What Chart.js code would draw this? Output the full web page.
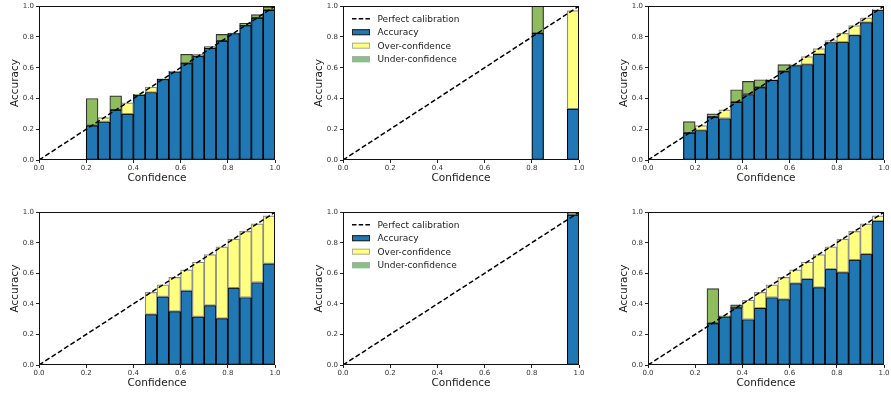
<!DOCTYPE html>
<html>
<head>
<meta charset="utf-8">
<script src="https://cdn.jsdelivr.net/npm/chart.js@4/dist/chart.umd.min.js"></script>
<style>
  html, body { margin: 0; padding: 0; background: #fff; }
  body { width: 891px; height: 396px; position: relative; overflow: hidden; }
  canvas { position: absolute; }
</style>
</head>
<body>
<canvas id="pA" width="283" height="190" style="left:0px;top:0px"></canvas>
<canvas id="pB" width="283" height="190" style="left:304px;top:0px"></canvas>
<canvas id="pC" width="283" height="190" style="left:609px;top:0px"></canvas>
<canvas id="pD" width="283" height="189" style="left:0px;top:206px"></canvas>
<canvas id="pE" width="283" height="189" style="left:304px;top:206px"></canvas>
<canvas id="pF" width="283" height="189" style="left:609px;top:206px"></canvas>
<script>
// 20 confidence bins of width 0.05 (lower edges)
var binLabels = ['0.00', '0.05', '0.10', '0.15', '0.20', '0.25', '0.30', '0.35', '0.40', '0.45',
                 '0.50', '0.55', '0.60', '0.65', '0.70', '0.75', '0.80', '0.85', '0.90', '0.95'];
var axisTicks = [0, 0.2, 0.4, 0.6, 0.8, 1.0];
var diagonal = [0, 1];
var legendLabels = ['Perfect calibration', 'Accuracy', 'Over-confidence', 'Under-confidence'];

// per-panel accuracy and mean confidence per bin (null = empty bin)
var accA  = [null, null, null, null, 0.400, 0.250, 0.417, 0.300, 0.427, 0.440, 0.528, 0.578, 0.687, 0.685, 0.738, 0.817, 0.825, 0.889, 0.945, 0.996];
var confA = [null, null, null, null, 0.224, 0.276, 0.326, 0.372, 0.424, 0.474, 0.525, 0.575, 0.628, 0.674, 0.727, 0.774, 0.823, 0.875, 0.924, 0.975];

var accB  = [null, null, null, null, null, null, null, null, null, null, null, null, null, null, null, null, 1.000, null, null, 0.333];
var confB = [null, null, null, null, null, null, null, null, null, null, null, null, null, null, null, null, 0.824, null, null, 0.972];

var accC  = [null, null, null, 0.250, 0.193, 0.300, 0.270, 0.457, 0.511, 0.522, 0.520, 0.620, 0.615, 0.622, 0.689, 0.765, 0.766, 0.811, 0.895, 0.975];
var confC = [null, null, null, 0.176, 0.224, 0.280, 0.326, 0.376, 0.426, 0.472, 0.524, 0.576, 0.624, 0.672, 0.724, 0.776, 0.824, 0.874, 0.924, 0.982];

var accD  = [null, null, null, null, null, null, null, null, null, 0.331, 0.447, 0.351, 0.486, 0.316, 0.390, 0.305, 0.505, 0.442, 0.540, 0.664];
var confD = [null, null, null, null, null, null, null, null, null, 0.475, 0.525, 0.573, 0.623, 0.673, 0.723, 0.773, 0.824, 0.874, 0.924, 0.976];

var accE  = [null, null, null, null, null, null, null, null, null, null, null, null, null, null, null, null, null, null, null, 0.996];
var confE = [null, null, null, null, null, null, null, null, null, null, null, null, null, null, null, null, null, null, null, 0.983];

var accF  = [null, null, null, null, null, 0.500, 0.322, 0.394, 0.298, 0.373, 0.442, 0.429, 0.534, 0.562, 0.508, 0.627, 0.606, 0.688, 0.725, 0.941];
var confF = [null, null, null, null, null, 0.272, 0.317, 0.375, 0.424, 0.475, 0.525, 0.573, 0.623, 0.673, 0.723, 0.773, 0.824, 0.874, 0.924, 0.976];

(function () {
  'use strict';
  var FONT = 'DejaVu Sans, sans-serif';

  // top/right spines like matplotlib
  var framePlugin = {
    id: 'frame',
    afterDatasetsDraw: function (chart) {
      var a = chart.chartArea, ctx = chart.ctx;
      ctx.save();
      ctx.strokeStyle = '#111';
      ctx.lineWidth = 1;
      ctx.strokeRect(Math.round(a.left) + 0.5, Math.round(a.top) + 0.5,
        Math.round(a.right - a.left) - 1, Math.round(a.bottom - a.top) - 1);
      ctx.restore();
    }
  };

  // legend drawn inside the axes, upper left
  var legendPlugin = {
    id: 'calLegend',
    afterDraw: function (chart, args, opts) {
      if (!opts.show) return;
      var ctx = chart.ctx, a = chart.chartArea;
      var x0 = a.left + 9, y0 = a.top + 12.5, row = 13.5;
      ctx.save();
      ctx.font = '9px ' + FONT;
      ctx.textBaseline = 'middle';
      ctx.fillStyle = '#222';
      chart.data.datasets.forEach(function (ds, i) {
        var y = y0 + i * row;
        if (i === 0) {
          ctx.strokeStyle = '#000';
          ctx.lineWidth = 1.5;
          ctx.setLineDash([4.5, 2.2]);
          ctx.beginPath();
          ctx.moveTo(x0, y);
          ctx.lineTo(x0 + 18, y);
          ctx.stroke();
          ctx.setLineDash([]);
        } else {
          ctx.fillStyle = opts.fills[i];
          ctx.fillRect(x0, y - 3, 18, 6);
          ctx.strokeStyle = opts.edges[i];
          ctx.lineWidth = 1;
          ctx.strokeRect(x0 + 0.5, y - 2.5, 17, 5);
        }
        ctx.fillStyle = '#222';
        ctx.fillText(legendLabels[i], x0 + 25.5, y + 0.5);
      });
      ctx.restore();
    }
  };

  function tickFmt(v) { return v.toFixed(1); }

  function makePanel(id, acc, conf, withLegend) {
    var base = acc.map(function (a, i) { return a === null ? null : Math.min(a, conf[i]); });
    var over = acc.map(function (a, i) { return a !== null && conf[i] > a ? [a, conf[i]] : null; });
    var under = acc.map(function (a, i) { return a !== null && a > conf[i] ? [conf[i], a] : null; });

    var barCommon = {
      xAxisID: 'x', yAxisID: 'y',
      grouped: false, barPercentage: 1, categoryPercentage: 1,
      borderWidth: 1.2, borderSkipped: false
    };

    return new Chart(document.getElementById(id), {
      type: 'bar',
      data: {
        labels: binLabels,
        datasets: [
          {
            type: 'line', label: legendLabels[0], xAxisID: 'x2', yAxisID: 'y',
            data: diagonal.map(function (v) { return { x: v, y: v }; }),
            borderColor: '#000', borderWidth: 1.5, borderDash: [5, 2.5],
            pointRadius: 0, fill: false, order: 0
          },
          Object.assign({ label: legendLabels[1], data: base, backgroundColor: '#1f77b4', borderColor: '#000', order: 3 }, barCommon),
          Object.assign({ label: legendLabels[2], data: over, backgroundColor: '#ffff80', borderColor: '#8a8a8a', order: 2 }, barCommon),
          Object.assign({ label: legendLabels[3], data: under, backgroundColor: '#8fbc5c', borderColor: '#333', order: 1 }, barCommon)
        ]
      },
      options: {
        responsive: false,
        animation: false,
        devicePixelRatio: 1,
        layout: { padding: { left: 0, top: 6, right: 8, bottom: 0 }, autoPadding: false },
        plugins: {
          legend: { display: false },
          tooltip: { enabled: false },
          calLegend: {
            show: withLegend,
            fills: [null, '#1f77b4', '#ffff80', '#85c385'],
            edges: [null, '#222', '#aaa', '#aaa']
          }
        },
        scales: {
          x: { type: 'category', display: false, offset: true },
          x2: {
            type: 'linear', position: 'bottom', min: 0, max: 1, offset: false,
            afterBuildTicks: function (s) { s.ticks = axisTicks.map(function (v) { return { value: v }; }); },
            ticks: { callback: tickFmt, color: '#333', font: { family: FONT, size: 7 }, padding: 1, maxRotation: 0, autoSkip: false },
            grid: { drawOnChartArea: false, tickLength: 3, color: '#222', offset: false },
            border: { display: false },
            title: { display: true, text: 'Confidence', color: '#1a1a1a', font: { family: FONT, size: 10.5 }, padding: { top: 0, bottom: 5 } },
            afterFit: function (s) { s.height = 30; }
          },
          y: {
            min: 0, max: 1,
            afterBuildTicks: function (s) { s.ticks = axisTicks.map(function (v) { return { value: v }; }); },
            ticks: { callback: tickFmt, color: '#333', font: { family: FONT, size: 7 }, padding: 2 },
            grid: { drawOnChartArea: false, tickLength: 3, color: '#222' },
            border: { display: false },
            title: { display: true, text: 'Accuracy', color: '#1a1a1a', font: { family: FONT, size: 10.5 }, padding: { top: 9, bottom: 0 } },
            afterFit: function (s) { s.width = 39; }
          }
        }
      },
      plugins: [framePlugin, legendPlugin]
    });
  }

  makePanel('pA', accA, confA, false);
  makePanel('pB', accB, confB, true);
  makePanel('pC', accC, confC, false);
  makePanel('pD', accD, confD, false);
  makePanel('pE', accE, confE, true);
  makePanel('pF', accF, confF, false);
})();
</script>
</body>
</html>
